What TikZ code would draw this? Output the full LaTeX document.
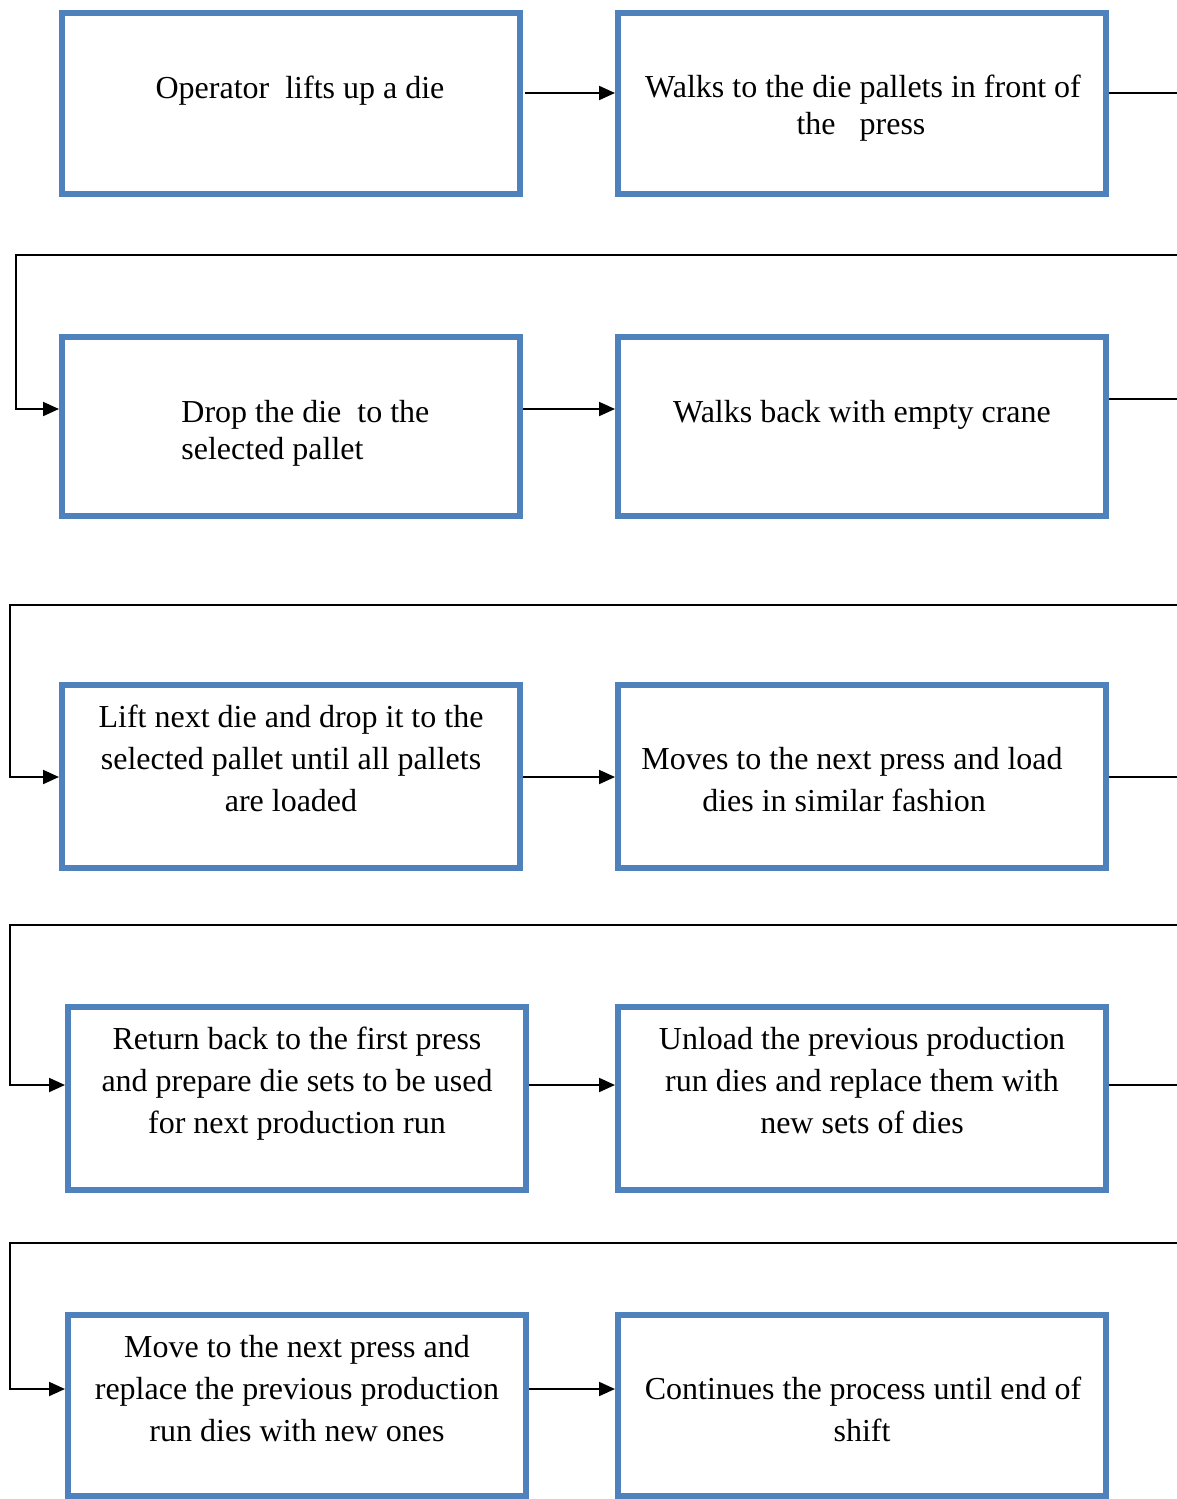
\documentclass[tikz,border=0pt]{standalone}
\usepackage{fontspec}
\setmainfont{Liberation Serif}
\usetikzlibrary{fit,arrows.meta}
\definecolor{boxblue}{HTML}{4F81BD}
\tikzset{
  procbox/.style={draw=boxblue, line width=3pt, inner sep=0pt, fill=none},
  ln/.style={anchor=base, inner sep=0pt, font=\fontsize{16pt}{19pt}\selectfont},
  lnl/.style={ln, anchor=base west},
  conn/.style={draw=black, line width=1pt},
  arr/.style={conn, -{Triangle[length=8pt,width=7pt]}}
}
\begin{document}
\begin{tikzpicture}[x=0.5pt,y=-0.5pt]
\useasboundingbox (0,0) rectangle (1177,1499);
% boxes
\node[procbox, fit={(62,13) (520,194)}] (A) {};
\node[procbox, fit={(618,13) (1106,194)}] (B) {};
\node[procbox, fit={(62,337) (520,516)}] (C) {};
\node[procbox, fit={(618,337) (1106,516)}] (D) {};
\node[procbox, fit={(62,685) (520,868)}] (E) {};
\node[procbox, fit={(618,685) (1106,868)}] (F) {};
\node[procbox, fit={(68,1007) (526,1190)}] (G) {};
\node[procbox, fit={(618,1007) (1106,1190)}] (H) {};
\node[procbox, fit={(68,1315) (526,1496)}] (I) {};
\node[procbox, fit={(618,1315) (1106,1496)}] (J) {};
% texts
\node[ln] (tA1) at (300,98) {Operator\ \ lifts up a die};
\node[ln] (tB1) at (863,97) {Walks to the die pallets in front of};
\node[ln] (tB2) at (861,134) {the\ \ \ press};
\node[lnl] (tC1) at (181,422) {Drop the die\ \ to the};
\node[lnl] (tC2) at (181,459) {selected pallet};
\node[ln] (tD1) at (862,422) {Walks back with empty crane};
\node[ln] (tE1) at (291,727) {Lift next die and drop it to the};
\node[ln] (tE2) at (291,769) {selected pallet until all pallets};
\node[ln] (tE3) at (291,811) {are loaded};
\node[ln] (tF1) at (852,769) {Moves to the next press and load};
\node[ln] (tF2) at (844,811) {dies in similar fashion};
\node[ln] (tG1) at (297,1049) {Return back to the first press};
\node[ln] (tG2) at (297,1091) {and prepare die sets to be used};
\node[ln] (tG3) at (297,1133) {for next production run};
\node[ln] (tH1) at (862,1049) {Unload the previous production};
\node[ln] (tH2) at (862,1091) {run dies and replace them with};
\node[ln] (tH3) at (862,1133) {new sets of dies};
\node[ln] (tI1) at (297,1357) {Move to the next press and};
\node[ln] (tI2) at (297,1399) {replace the previous production};
\node[ln] (tI3) at (297,1441) {run dies with new ones};
\node[ln] (tJ1) at (863,1399) {Continues the process until end of};
\node[ln] (tJ2) at (862,1441) {shift};
% free ends at the right edge
\coordinate (o1) at (1177,93);
\coordinate (o2) at (1177,399);
\coordinate (o3) at (1177,777);
\coordinate (o4) at (1177,1085);
\coordinate (l1a) at (1177,255);
\coordinate (l1b) at (16,255);
\coordinate (l2a) at (1177,605);
\coordinate (l2b) at (10,605);
\coordinate (l3a) at (1177,925);
\coordinate (l3b) at (10,925);
\coordinate (l4a) at (1177,1243);
\coordinate (l4b) at (10,1243);
% connectors
\draw[arr] ([xshift=1pt]A.east |- o1) -- (B.west |- o1);
\draw[conn] (B.east |- o1) -- (o1);
\draw[arr] (l1a) -- (l1b) |- (C.west |- 0,409);
\draw[arr] (C.east |- 0,409) -- (D.west |- 0,409);
\draw[conn] (D.east |- o2) -- (o2);
\draw[arr] (l2a) -- (l2b) |- (E.west |- o3);
\draw[arr] (E.east |- o3) -- (F.west |- o3);
\draw[conn] (F.east |- o3) -- (o3);
\draw[arr] (l3a) -- (l3b) |- (G.west |- o4);
\draw[arr] (G.east |- o4) -- (H.west |- o4);
\draw[conn] (H.east |- o4) -- (o4);
\draw[arr] (l4a) -- (l4b) |- (I.west |- 0,1389);
\draw[arr] (I.east |- 0,1389) -- (J.west |- 0,1389);
\end{tikzpicture}
\end{document}
